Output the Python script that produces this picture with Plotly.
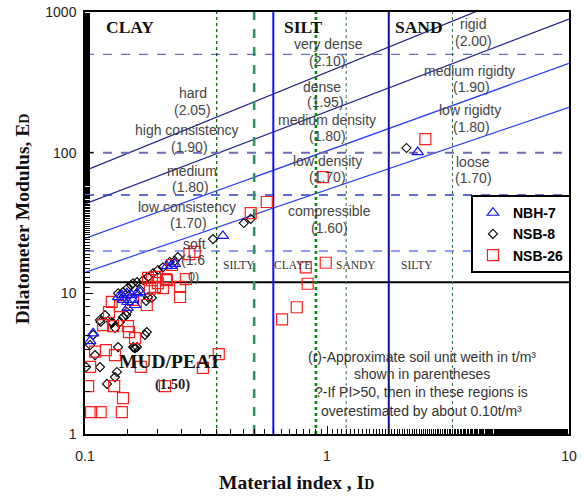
import plotly.graph_objects as go

# ---- measured points: material index I_D and dilatometer modulus E_D ----
nbh7_id = [2.37, 0.371, 0.235, 0.227, 0.218, 0.142, 0.149, 0.156, 0.164, 0.169,
           0.161, 0.150, 0.1435, 0.137, 0.158, 0.150, 0.108, 0.105]
nbh7_ed = [101, 25.6, 16.2, 15.7, 15.6, 9.7, 10.0, 9.7, 10.0, 10.2,
           8.26, 8.68, 8.97, 9.4, 8.97, 7.87, 5.2, 4.58]

nsb8_id = [2.13, 0.453, 0.484, 0.338, 0.242, 0.235, 0.224, 0.21, 0.2, 0.191,
           0.182, 0.174, 0.164, 0.158, 0.15, 0.1435, 0.137, 0.182, 0.179, 0.149,
           0.1435, 0.1395, 0.129, 0.1153, 0.133, 0.18, 0.177, 0.158, 0.161, 0.164,
           0.137, 0.108, 0.105, 0.11, 0.1153, 0.101, 0.1355, 0.133, 0.1233, 0.148,
           0.169, 0.155, 0.121, 0.116, 0.189, 0.13, 0.128, 0.16]
nsb8_ed = [108, 31.6, 33.8, 24.3, 18.1, 17.0, 16.7, 15.3, 14.65, 13.9,
           13.1, 12.4, 12.0, 11.8, 10.9, 10.2, 10.0, 9.4, 8.83, 7.37,
           6.76, 6.26, 6.15, 6.46, 5.67, 5.3, 5.06, 4.15, 4.08, 4.15,
           4.15, 5.06, 4.29, 3.64, 2.99, 2.99, 2.76, 2.54, 2.27, 7.0,
           10.6, 11.4, 7.0, 6.26, 9.3, 6.2, 6.3, 4.1]

nsb26_id = [2.55, 0.96, 0.564, 0.484, 0.988, 0.817, 0.832, 0.75, 0.652, 0.284,
            0.27, 0.229, 0.218, 0.261, 0.247, 0.247, 0.182, 0.198, 0.216, 0.1945,
            0.21, 0.2, 0.189, 0.18, 0.158, 0.1395, 0.129, 0.1256, 0.1187, 0.1305,
            0.1505, 0.152, 0.161, 0.11, 0.122, 0.133, 0.105, 0.17, 0.103, 0.132,
            0.1435, 0.106, 0.116, 0.142, 0.214, 0.307, 0.357, 0.1855]
nsb26_ed = [125, 67.1, 44.6, 37.2, 16.5, 15.3, 11.7, 7.96, 6.54, 19.7,
            19.0, 15.9, 12.4, 12.6, 11.1, 9.42, 12.9, 13.1, 12.6, 11.1,
            10.9, 11.8, 12.4, 8.26, 8.97, 8.1, 8.7, 7.37, 5.95, 5.85,
            5.85, 5.3, 4.81, 3.85, 3.95, 3.64, 3.0, 3.0, 2.19, 2.19,
            1.80, 1.43, 1.43, 1.43, 2.19, 2.95, 3.7, 10.8]

# ---- chart boundaries ----
id_span = [0.1, 10]
# unit-weight boundary lines: E_D at I_D = 0.1 and at I_D = 10
unit_weight_lines = [
    ([74.5, 1871], "#1c1c82"),
    ([43.2, 891], "#20208f"),
    ([24.6, 431], "#2a3cf5"),
    ([14.1, 210], "#2a3cf5"),
]
# soil-type boundaries (vertical), I_D values
soil_type_bounds = [(0.6, "#1010ff"), (1.8, "#101090")]
# sub-type boundaries (vertical, green), I_D values
subtype_bounds = [
    (0.35, "#0a6a0a", 1.3, "dot"),
    (0.5, "#2e9460", 2.6, "dash"),
    (0.9, "#0a8a0a", 2.6, "dot"),
    (1.2, "#2e6e50", 1.0, "dot"),
    (3.3, "#2e6e50", 1.0, "dot"),
]
# horizontal E_D boundaries
ed_bounds = [
    (500, "#6a6ad8", 1.3, "dash"),
    (100, "#6b6bb8", 2.0, "dash"),
    (50, "#2b3cd0", 1.3, "dash"),
    (20, "#6a7cff", 1.3, "dash"),
    (12, "#000000", 2.0, "solid"),
]

fig = go.Figure()

for ed_pair, col in unit_weight_lines:
    fig.add_trace(go.Scatter(x=id_span, y=ed_pair, mode="lines",
                             line=dict(color=col, width=1.2),
                             showlegend=False, hoverinfo="skip"))
for val, col, w, dash in ed_bounds:
    fig.add_trace(go.Scatter(x=id_span, y=[val, val], mode="lines",
                             line=dict(color=col, width=w, dash=dash),
                             showlegend=False, hoverinfo="skip"))
for val, col, w, dash in subtype_bounds:
    fig.add_trace(go.Scatter(x=[val, val], y=[1, 1000], mode="lines",
                             line=dict(color=col, width=w, dash=dash),
                             showlegend=False, hoverinfo="skip"))
for val, col in soil_type_bounds:
    fig.add_trace(go.Scatter(x=[val, val], y=[1, 1000], mode="lines",
                             line=dict(color=col, width=2),
                             showlegend=False, hoverinfo="skip"))

fig.add_trace(go.Scatter(x=nsb8_id, y=nsb8_ed, mode="markers", name="NSB-8",
                         legendrank=2,
                         marker=dict(symbol="diamond-open", size=7, color="#000000",
                                     line=dict(width=1.1, color="#000000"))))
fig.add_trace(go.Scatter(x=nsb26_id, y=nsb26_ed, mode="markers", name="NSB-26",
                         legendrank=3,
                         marker=dict(symbol="square-open", size=11, color="#ff1e1e",
                                     line=dict(width=1.2, color="#ff1e1e"))))
fig.add_trace(go.Scatter(x=nbh7_id, y=nbh7_ed, mode="markers", name="NBH-7",
                         legendrank=1,
                         marker=dict(symbol="triangle-up-open", size=10, color="#1010ff",
                                     line=dict(width=1.2, color="#1010ff"))))

sans = "Liberation Sans, Arial, sans-serif"
serif = "Liberation Serif, Times New Roman, serif"
grey = "#454545"

annotations = []

def label(text, x, y, size=14, family=sans, color=grey, angle=0):
    annotations.append(dict(text=text, x=x, y=y, xref="paper", yref="paper",
                            showarrow=False, xanchor="center", yanchor="middle",
                            textangle=angle,
                            font=dict(family=family, size=size, color=color)))

# consistency / density / rigidity descriptions with unit weights
zone_labels = [
    ("hard", 0.223, 0.808), ("(2.05)", 0.223, 0.768),
    ("high consistency", 0.211, 0.720), ("(1.90)", 0.215, 0.680),
    ("medium", 0.221, 0.623), ("(1.80)", 0.219, 0.585),
    ("low consistency", 0.211, 0.538), ("(1.70)", 0.213, 0.500),
    ("soft", 0.227, 0.450), ("(1.6", 0.223, 0.412),
    ("very dense", 0.504, 0.924), ("(2.10)", 0.502, 0.884),
    ("dense", 0.490, 0.822), ("(1.95)", 0.496, 0.787),
    ("medium density", 0.500, 0.744), ("(1.80)", 0.502, 0.706),
    ("low density", 0.500, 0.647), ("(1.70)", 0.502, 0.609),
    ("compressible", 0.506, 0.528), ("(1.60)", 0.506, 0.488),
    ("rigid", 0.802, 0.972), ("(2.00)", 0.802, 0.931),
    ("medium rigidty", 0.795, 0.860), ("(1.90)", 0.798, 0.822),
    ("low rigidty", 0.795, 0.768), ("(1.80)", 0.798, 0.727),
    ("loose", 0.802, 0.645), ("(1.70)", 0.802, 0.607),
]
for t, x, y in zone_labels:
    label(t, x, y)
# the wrapped tail of the "soft" weight, set a little smaller
label("0)", 0.225, 0.372, size=12.5)

# soil type headers
for t, x in [("CLAY", 0.093), ("SILT", 0.451), ("SAND", 0.691)]:
    label("<b>%s</b>" % t, x, 0.964, size=17.5, family=serif, color="#111111")
label("<b>MUD/PEAT</b>", 0.177, 0.171, size=19.5, family=serif, color="#111111")
label("<b>(1.50)</b>", 0.180, 0.118, size=14.5, family=serif, color="#222222")

# sub-type names
for t, x in [("SILTY", 0.318), ("CLAYE", 0.428), ("SANDY", 0.560), ("SILTY", 0.686)]:
    label(t, x, 0.401, size=11.5, family=serif, color="#333333")

# footnote
notes = [
    ("(r)-Approximate soil unit weith in t/m³", 0.182),
    ("shown in parentheses", 0.142),
    ("?-If PI>50, then in these regions is", 0.0995),
    ("overestimated by about 0.10t/m³", 0.0545),
]
for t, y in notes:
    label(t, 0.696, y, size=14, color="#333333")

# axis titles
label("<b>Material index , I<span style='font-size:14px'>D</span></b>",
      0.436, -0.116, size=19.5, family=serif, color="#111111")
label("<b>Dilatometer Modulus, E<span style='font-size:14px'>D</span></b>",
      -0.130, 0.509, size=19.5, family=serif, color="#111111", angle=-90)

axis_common = dict(type="log", showgrid=False, zeroline=False, showline=True,
                   mirror=True, linecolor="#000000", linewidth=1.5,
                   ticks="inside", ticklen=8, tickwidth=1, tickcolor="#000000",
                   tickfont=dict(family=sans, size=14, color="#222222"),
                   minor=dict(ticks="inside", ticklen=5, tickwidth=1,
                              tickcolor="#000000", showgrid=False))

fig.update_layout(
    width=584, height=498,
    margin=dict(l=85, r=15, t=12, b=64, autoexpand=False),
    paper_bgcolor="white", plot_bgcolor="white",
    xaxis=dict(axis_common, range=[-1, 1], tickvals=[0.1, 1, 10],
               ticktext=["0.1", "1", "10"], ticklabelstandoff=8),
    yaxis=dict(axis_common, range=[0, 3], tickvals=[1, 10, 100, 1000],
               ticktext=["1", "10", "100", "1000"], ticklabelstandoff=4),
    legend=dict(x=1.004, y=0.566, xanchor="right", yanchor="top",
                bgcolor="white", bordercolor="#000000", borderwidth=2,
                font=dict(family=sans, size=14, color="#000000", weight="bold"),
                itemwidth=30, tracegroupgap=0),
    annotations=annotations,
    showlegend=True,
)

fig.write_html("out.html")
